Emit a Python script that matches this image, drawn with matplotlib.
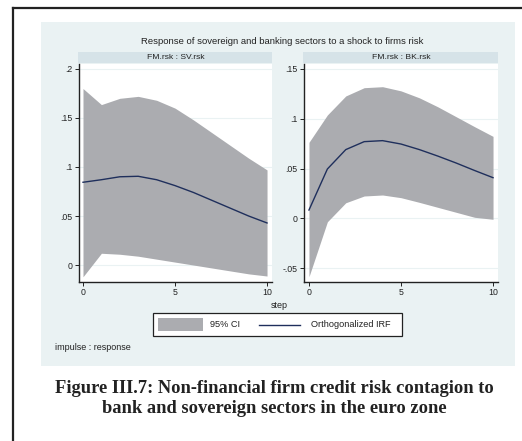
import matplotlib
matplotlib.use("Agg")
import matplotlib.pyplot as plt
from matplotlib.patches import Rectangle
from matplotlib.lines import Line2D
import numpy as np

steps = list(range(11))
sv_irf = [0.0844, 0.087, 0.090, 0.0905, 0.087, 0.081, 0.074, 0.066, 0.058, 0.050, 0.0429]
sv_lo = [-0.012, 0.012, 0.011, 0.009, 0.006, 0.003, 0.0, -0.003, -0.006, -0.009, -0.0112]
sv_hi = [0.180, 0.1636, 0.170, 0.172, 0.168, 0.160, 0.148, 0.135, 0.122, 0.109, 0.097]
bk_irf = [0.0083, 0.0495, 0.069, 0.077, 0.078, 0.0746, 0.069, 0.0625, 0.0555, 0.048, 0.0408]
bk_lo = [-0.0587, -0.0035, 0.0156, 0.0224, 0.0234, 0.0207, 0.016, 0.011, 0.006, 0.001, -0.001]
bk_hi = [0.0763, 0.1038, 0.1229, 0.1312, 0.1322, 0.128, 0.121, 0.112, 0.102, 0.092, 0.0823]

sv_ticks = [0, 0.05, 0.1, 0.15, 0.2]
sv_labels = ["0", ".05", ".1", ".15", ".2"]
bk_ticks = [-0.05, 0, 0.05, 0.1, 0.15]
bk_labels = ["-.05", "0", ".05", ".1", ".15"]
x_ticks = [0, 5, 10]

W, H = 522, 441
BG = "#EAF2F3"
STRIP = "#D6E3E8"
BAND = "#ABACB0"
LINE = "#1F2F5C"
TXT = "#222222"

plt.rcParams["font.family"] = ["Liberation Sans", "DejaVu Sans"]
fig = plt.figure(figsize=(W / 100, H / 100), dpi=100)
fig.patch.set_facecolor("white")

def fx(x):
    return x / W

def fy(y):
    return 1 - y / H

# page frame
fig.add_artist(Line2D([fx(12.5), fx(12.5)], [fy(7.5), fy(441)], color=TXT, lw=1.6))
fig.add_artist(Line2D([fx(12.5), fx(522)], [fy(7.5), fy(7.5)], color=TXT, lw=1.6))

# graph background
fig.add_artist(Rectangle((fx(41), fy(366)), fx(515) - fx(41), fy(22) - fy(366),
                         transform=fig.transFigure, facecolor=BG, edgecolor="none", zorder=0))

fig.text(fx(282), fy(42), "Response of sovereign and banking sectors to a shock to firms risk",
         ha="center", va="center", fontsize=6.8, color=TXT)

panels = [
    (79, 272, "FM.rsk : SV.rsk", sv_irf, sv_lo, sv_hi, (-0.0173, 0.205), sv_ticks, sv_labels, (-0.217, 10.27)),
    (304, 498, "FM.rsk : BK.rsk", bk_irf, bk_lo, bk_hi, (-0.064, 0.155), bk_ticks, bk_labels, (-0.27, 10.27)),
]
top, bot = 64, 282
for (x0, x1, name, irf, lo, hi, ylim, yt, yl, xlim) in panels:
    ax = fig.add_axes([fx(x0), fy(bot), fx(x1) - fx(x0), fy(top) - fy(bot)])
    ax.set_facecolor("white")
    ax.fill_between(steps, lo, hi, color=BAND, lw=0, zorder=2)
    ax.plot(steps, irf, color=LINE, lw=1.0, zorder=3)
    ax.set_xlim(*xlim)
    ax.set_ylim(*ylim)
    ax.set_yticks(yt)
    ax.set_yticklabels(yl)
    ax.set_xticks(x_ticks)
    ax.set_xticklabels([str(v) for v in x_ticks])
    for t in yt:
        ax.axhline(t, color=BG, lw=0.8, zorder=1)
    for s in ["top", "right"]:
        ax.spines[s].set_visible(False)
    for s in ["left", "bottom"]:
        ax.spines[s].set_color(TXT)
        ax.spines[s].set_linewidth(1.0)
    ax.tick_params(labelsize=6.3, colors=TXT, length=3, width=0.7, pad=1.5)
    # strip
    fig.add_artist(Rectangle((fx(x0 - 1), fy(63)), fx(x1) - fx(x0 - 1), fy(52) - fy(63),
                             transform=fig.transFigure, facecolor=STRIP, edgecolor="none", zorder=1))
    fig.text(fx((x0 + x1) / 2), fy(57.5), name, ha="center", va="center", fontsize=6.1, color=TXT)

fig.text(fx(279), fy(305), "step", ha="center", va="center", fontsize=6.5, color=TXT)

# legend
fig.add_artist(Rectangle((fx(153), fy(336)), fx(402) - fx(153), fy(313) - fy(336),
                         transform=fig.transFigure, facecolor="white", edgecolor=TXT, lw=0.9, zorder=2))
fig.add_artist(Rectangle((fx(158), fy(331)), fx(203) - fx(158), fy(318) - fy(331),
                         transform=fig.transFigure, facecolor=BAND, edgecolor="none", zorder=3))
fig.text(fx(210), fy(324.5), "95% CI", ha="left", va="center", fontsize=6.6, color=TXT, zorder=3)
fig.add_artist(Line2D([fx(259), fx(300)], [fy(324.5), fy(324.5)], color=LINE, lw=1.0, zorder=3))
fig.text(fx(311), fy(324.5), "Orthogonalized IRF", ha="left", va="center", fontsize=6.6, color=TXT, zorder=3)

fig.text(fx(55), fy(347), "impulse : response", ha="left", va="center", fontsize=6.5, color=TXT)

fig.text(fx(274), fy(393), "Figure III.7: Non-financial firm credit risk contagion to",
         ha="center", va="baseline", fontsize=13.3, fontweight="bold", family="Liberation Serif", color=TXT)
fig.text(fx(274), fy(413), "bank and sovereign sectors in the euro zone",
         ha="center", va="baseline", fontsize=13.3, fontweight="bold", family="Liberation Serif", color=TXT)

fig.savefig("out.png", dpi=100, facecolor="white")
